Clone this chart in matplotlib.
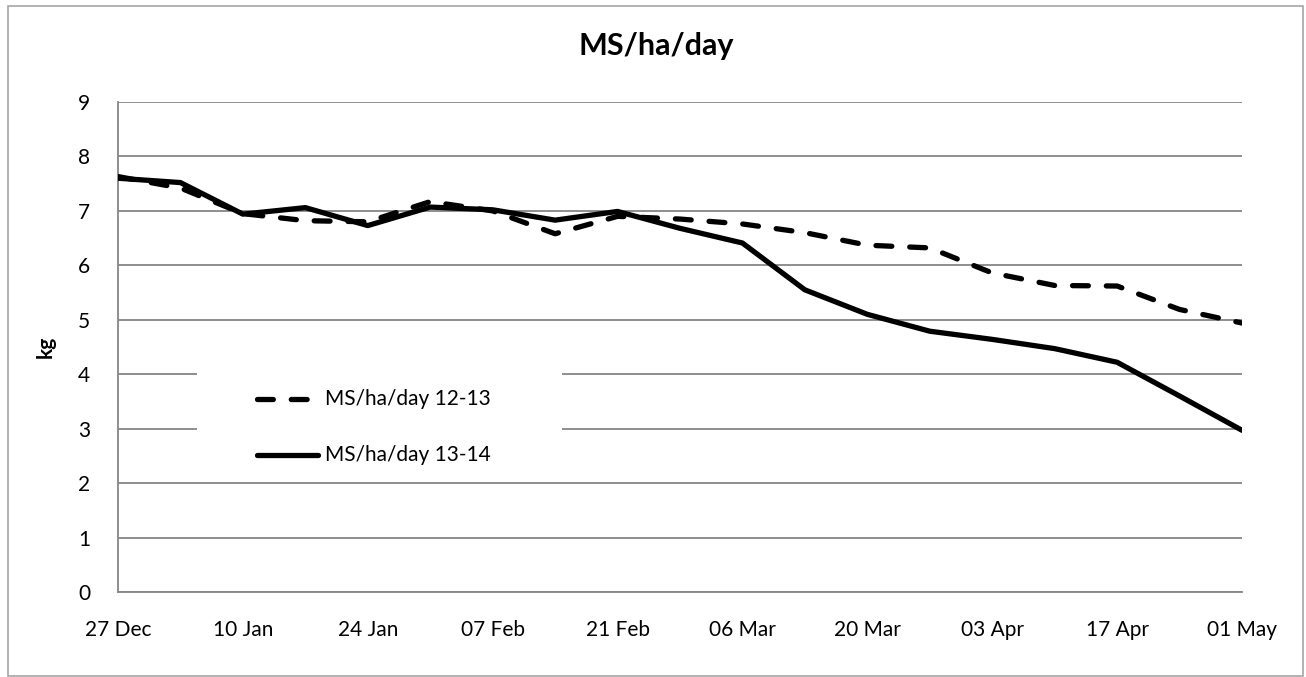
import matplotlib
matplotlib.use("Agg")
import matplotlib.pyplot as plt
from matplotlib.patches import Rectangle
from matplotlib.lines import Line2D

plt.rcParams['font.family'] = ['Lato', 'DejaVu Sans']

# weekly readings, day offset from 27 Dec
days = list(range(0, 127, 7))
ms_12_13 = [7.63, 7.42, 6.95, 6.82, 6.80, 7.17, 7.00, 6.58, 6.90, 6.85,
            6.76, 6.60, 6.37, 6.32, 5.86, 5.63, 5.62, 5.19, 4.94]
ms_13_14 = [7.60, 7.52, 6.94, 7.06, 6.73, 7.07, 7.02, 6.83, 6.99, 6.68,
            6.41, 5.55, 5.10, 4.79, 4.64, 4.47, 4.22, 3.60, 2.97]
tick_days = list(range(0, 127, 14))
tick_labels = ['27 Dec', '10 Jan', '24 Jan', '07 Feb', '21 Feb',
               '06 Mar', '20 Mar', '03 Apr', '17 Apr', '01 May']

W, H = 1306, 677
fig = plt.figure(figsize=(W / 100, H / 100), dpi=100)
ax = fig.add_axes([118 / W, 1 - 592 / H, (1242 - 118) / W, (592 - 102) / H])

grid_col = '#868686'
ax.plot(days, ms_12_13, color='black', lw=3.8, dashes=(3.0, 3.4),
        dash_capstyle='round', solid_capstyle='round', zorder=3)
ax.plot(days, ms_13_14, color='black', lw=3.8, solid_capstyle='round',
        solid_joinstyle='round', zorder=4)

ax.set_xlim(0, 126)
ax.set_ylim(0, 9)
ax.set_yticks(range(0, 10))
ax.set_xticks(tick_days)
ax.set_xticklabels(tick_labels)
ax.yaxis.grid(True, color=grid_col, lw=1.3)
ax.set_axisbelow(True)
for s in ['top', 'right']:
    ax.spines[s].set_visible(False)
for s in ['left', 'bottom']:
    ax.spines[s].set_color(grid_col)
    ax.spines[s].set_linewidth(1.3)
ax.tick_params(axis='both', length=0, labelsize=15, colors='black')
ax.tick_params(axis='y', pad=20)
ax.tick_params(axis='x', pad=20)

ax.set_ylabel('kg', fontsize=15, fontweight='bold', labelpad=16)
fig.text(656 / W, 1 - 46 / H, 'MS/ha/day', fontsize=22, fontweight='bold',
         ha='center', va='center')

# legend box (white, covers the gridlines)
fig.patches.append(Rectangle((197 / W, 1 - 470 / H), (562 - 197) / W, 100 / H,
                             transform=fig.transFigure, facecolor='white',
                             edgecolor='none', zorder=5))
leg_items = [(399, dict(dashes=(3.0, 3.4), dash_capstyle='round'), 'MS/ha/day 12-13'),
             (455, dict(solid_capstyle='round'), 'MS/ha/day 13-14')]
for y, style, label in leg_items:
    fig.lines.append(Line2D([257 / W, 318 / W], [1 - y / H, 1 - y / H],
                            transform=fig.transFigure, color='black', lw=3.8,
                            zorder=6, **style))
    fig.text(325 / W, 1 - y / H, label, fontsize=15, va='center', ha='left',
             zorder=7)

# outer chart border
fig.patches.append(Rectangle((8 / W, 1 - 676 / H), (1303 - 8) / W, (676 - 6) / H,
                             transform=fig.transFigure, facecolor='none',
                             edgecolor='#a6a6a6', lw=1.2, zorder=8))

fig.savefig('out.png', dpi=100)
